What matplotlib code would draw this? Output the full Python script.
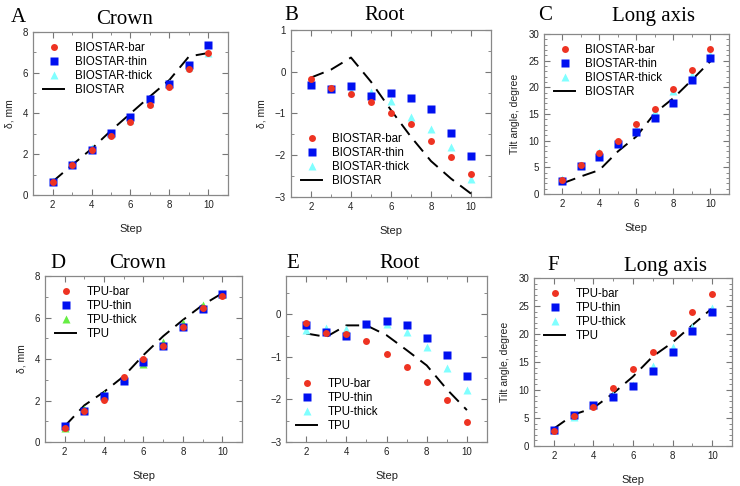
import matplotlib
matplotlib.use("Agg")
import matplotlib.pyplot as plt
from matplotlib.ticker import MultipleLocator
from matplotlib.lines import Line2D

steps = [2, 3, 4, 5, 6, 7, 8, 9, 10]

# BIOSTAR
bio_crown_bar = [0.65, 1.45, 2.2, 2.9, 3.6, 4.4, 5.3, 6.2, 6.95]
bio_crown_thin = [0.62, 1.47, 2.2, 3.05, 3.85, 4.7, 5.45, 6.4, 7.35]
bio_crown_thick = [0.7, 1.5, 2.3, 3.0, 3.7, 4.5, 5.5, 6.3, 6.95]
bio_crown_line = [0.65, 1.47, 2.26, 3.16, 4.0, 4.84, 5.65, 6.8, 6.97]

bio_root_bar = [-0.18, -0.38, -0.54, -0.72, -0.98, -1.26, -1.66, -2.04, -2.44]
bio_root_thin = [-0.32, -0.42, -0.35, -0.57, -0.5, -0.63, -0.89, -1.47, -2.01]
bio_root_thick = [-0.24, -0.38, -0.46, -0.48, -0.7, -1.08, -1.38, -1.8, -2.58]
bio_root_line = [-0.14, 0.05, 0.34, -0.24, -0.92, -1.56, -2.14, -2.56, -2.92]

bio_tilt_bar = [2.7, 5.4, 7.7, 10.0, 13.1, 16.0, 19.7, 23.3, 27.1]
bio_tilt_thin = [2.4, 5.3, 7.0, 9.4, 11.6, 14.3, 17.1, 21.3, 25.5]
bio_tilt_thick = [2.8, 5.4, 7.9, 9.7, 12.1, 15.3, 19.3, 22.4, 26.1]
bio_tilt_line = [2.0, 3.3, 4.5, 8.0, 10.8, 15.2, 18.0, 21.4, 24.9]

# TPU
tpu_crown_bar = [0.68, 1.5, 2.02, 3.14, 3.98, 4.62, 5.52, 6.44, 7.04]
tpu_crown_thin = [0.76, 1.5, 2.22, 2.93, 3.85, 4.62, 5.52, 6.41, 7.13]
tpu_crown_thick = [0.68, 1.58, 2.3, 3.1, 3.75, 4.8, 5.72, 6.6, 7.12]
tpu_crown_line = [0.76, 1.77, 2.42, 3.17, 4.19, 5.1, 5.88, 6.6, 7.17]

tpu_root_bar = [-0.2, -0.45, -0.47, -0.62, -0.94, -1.24, -1.59, -2.02, -2.53]
tpu_root_thin = [-0.26, -0.42, -0.5, -0.22, -0.15, -0.24, -0.55, -0.95, -1.46]
tpu_root_thick = [-0.38, -0.31, -0.35, -0.23, -0.22, -0.42, -0.76, -1.27, -1.78]
tpu_root_line = [-0.45, -0.53, -0.26, -0.26, -0.49, -0.84, -1.2, -1.76, -2.25]

tpu_tilt_bar = [2.6, 5.4, 6.9, 10.3, 13.7, 16.8, 20.2, 23.9, 27.1]
tpu_tilt_thin = [2.8, 5.5, 7.35, 8.8, 10.76, 13.45, 16.7, 20.5, 23.85]
tpu_tilt_thick = [2.9, 5.2, 7.35, 9.1, 10.9, 14.2, 17.6, 21.2, 24.6]
tpu_tilt_line = [3.1, 5.6, 6.8, 9.4, 12.4, 16.0, 18.5, 21.6, 24.6]

RED = "#ee3322"
BLUE = "#0010f0"
CYAN = "#80ffff"
GREEN = "#66ee44"

plt.rcParams["font.family"] = ["Liberation Sans", "DejaVu Sans"]

fig = plt.figure(figsize=(7.4, 4.86), dpi=100)

panels = [
    # letter, title, rect, data, prefix, thick color, ylim, major, minor, ylabel, legend loc
    ("A", "Crown", [0.0446, 0.5988, 0.2635, 0.3354],
     (bio_crown_bar, bio_crown_thin, bio_crown_thick, bio_crown_line),
     "BIOSTAR", CYAN, (0, 8), 2, 1, "δ, mm", "upper left"),
    ("B", "Root", [0.3932, 0.5947, 0.2703, 0.3436],
     (bio_root_bar, bio_root_thin, bio_root_thick, bio_root_line),
     "BIOSTAR", CYAN, (-3, 1), 1, 0.5, "δ, mm", "lower left"),
    ("C", "Long axis", [0.7351, 0.6008, 0.25, 0.3292],
     (bio_tilt_bar, bio_tilt_thin, bio_tilt_thick, bio_tilt_line),
     "BIOSTAR", CYAN, (0, 30), 5, 1, "Tilt angle, degree", "upper left"),
    ("D", "Crown", [0.0608, 0.0905, 0.2662, 0.3416],
     (tpu_crown_bar, tpu_crown_thin, tpu_crown_thick, tpu_crown_line),
     "TPU", GREEN, (0, 8), 2, 1, "δ, mm", "upper left"),
    ("E", "Root", [0.3865, 0.0905, 0.2716, 0.3416],
     (tpu_root_bar, tpu_root_thin, tpu_root_thick, tpu_root_line),
     "TPU", CYAN, (-3, 0.9), 1, 0.5, None, "lower left"),
    ("F", "Long axis", [0.7216, 0.0823, 0.2676, 0.3457],
     (tpu_tilt_bar, tpu_tilt_thin, tpu_tilt_thick, tpu_tilt_line),
     "TPU", CYAN, (0, 30), 5, 1, "Tilt angle, degree", "upper left"),
]

# letter / title positions in pixels (x, y from top)
heads = {
    "A": ((18, 17), (125, 19)),
    "B": ((291, 15), (385, 15)),
    "C": ((545, 16), (653, 16)),
    "D": ((58, 264), (138, 264)),
    "E": ((293, 264), (400, 264)),
    "F": ((553, 266), (665, 266)),
}

for letter, title, rect, data, prefix, thick_color, ylim, major, minor, ylabel, loc in panels:
    bar, thin, thick, line = data
    ax = fig.add_axes(rect)
    ax.plot(steps, line, color="black", lw=1.4, dashes=(7, 4), zorder=2)
    ax.plot(steps, thick, "^", color=thick_color, ms=5.5, mec="none", zorder=3)
    ax.plot(steps, thin, "s", color=BLUE, ms=5.5, mec="none", zorder=3)
    ax.plot(steps, bar, "o", color=RED, ms=5, mec="none", zorder=3)
    ax.set_xlim(1, 11)
    ax.set_ylim(*ylim)
    ax.xaxis.set_major_locator(MultipleLocator(2))
    ax.xaxis.set_minor_locator(MultipleLocator(1))
    ax.yaxis.set_major_locator(MultipleLocator(major))
    ax.yaxis.set_minor_locator(MultipleLocator(minor))
    ax.tick_params(which="both", direction="in", top=True, right=True,
                   labelsize=7, color="#777777", labelcolor="#222222")
    ax.tick_params(which="major", length=4)
    ax.tick_params(which="minor", length=2)
    for s in ax.spines.values():
        s.set_color("#888888")
        s.set_linewidth(0.9)
    ax.set_xlabel("Step", fontsize=8, color="#222222", labelpad=10)
    if ylabel:
        ax.set_ylabel(ylabel, fontsize=7.5, color="#222222", labelpad=6)

    handles = [
        Line2D([], [], ls="none", marker="o", color=RED, ms=5, mec="none"),
        Line2D([], [], ls="none", marker="s", color=BLUE, ms=5.5, mec="none"),
        Line2D([], [], ls="none", marker="^", color=thick_color, ms=5.5, mec="none"),
        Line2D([], [], color="black", lw=1.4),
    ]
    labels = [prefix + "-bar", prefix + "-thin", prefix + "-thick", prefix]
    ax.legend(handles, labels, loc=loc, frameon=False, fontsize=8.3,
              handlelength=1.8, handletextpad=0.9, labelspacing=0.15,
              borderaxespad=0.5, borderpad=0.4)

    (lx, ly), (tx, ty) = heads[letter]
    fig.text(lx / 740, 1 - ly / 486, letter, family="Liberation Serif", fontsize=15,
             ha="center", va="center")
    fig.text(tx / 740, 1 - ty / 486, title, family="Liberation Serif", fontsize=15,
             ha="center", va="center")

fig.savefig("out.png", dpi=100)
